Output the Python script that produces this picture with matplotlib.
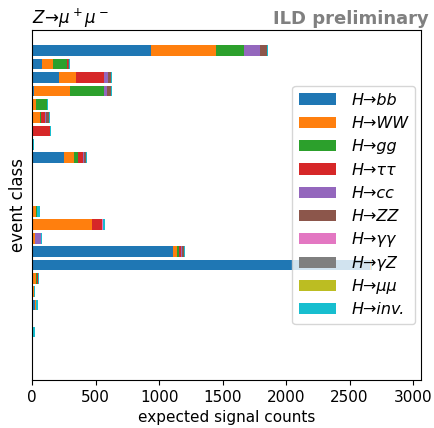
import matplotlib.pyplot as plt
import numpy as np

labels = ['H→bb', 'H→WW', 'H→gg', 'H→ττ', 'H→cc',
          'H→ZZ', 'H→γγ', 'H→γZ', 'H→μμ', 'H→inv.']
colors = ['tab:blue', 'tab:orange', 'tab:green', 'tab:red', 'tab:purple',
          'tab:brown', 'tab:pink', 'tab:gray', 'tab:olive', 'tab:cyan']

n_classes = 25
# counts per event class (rows 0..24), one list per Higgs decay channel
bb     = [937, 79, 213, 16, 0, 0, 0, 5, 252, 0, 0, 0, 0, 5, 0, 1110, 2660, 3, 8, 20, 0, 4, 0, 0, 0]
WW     = [512, 86, 133, 283, 31, 63, 0, 0, 76, 0, 0, 0, 31, 467, 22, 32, 5, 25, 3, 8, 0, 0, 0, 0, 0]
gg     = [220, 111, 0, 268, 89, 8, 0, 0, 32, 0, 0, 0, 8, 0, 0, 15, 2, 10, 0, 0, 0, 0, 0, 0, 0]
tautau = [0, 8, 221, 0, 0, 31, 142, 0, 42, 0, 0, 0, 0, 79, 0, 16, 2, 5, 6, 5, 0, 0, 0, 0, 0]
cc     = [126, 0, 29, 23, 0, 8, 0, 0, 10, 0, 0, 0, 0, 0, 51, 8, 1, 0, 0, 0, 0, 0, 0, 0, 0]
ZZ     = [55, 8, 26, 32, 0, 24, 0, 0, 13, 0, 0, 0, 0, 0, 0, 13, 1, 0, 0, 0, 0, 0, 0, 0, 0]
gamgam = [0, 0, 0, 0, 0, 0, 0, 0, 0, 0, 0, 0, 0, 8, 0, 0, 0, 0, 0, 0, 0, 0, 0, 0, 0]
Zgam   = [0] * n_classes
mumu   = [0] * n_classes
inv    = [8, 4, 3, 4, 3, 4, 5, 12, 8, 2, 8, 0, 20, 12, 3, 12, 8, 10, 8, 10, 8, 20, 0, 0, 0]
series = [bb, WW, gg, tautau, cc, ZZ, gamgam, Zgam, mumu, inv]

fig, ax = plt.subplots(figsize=(4.35, 4.28), dpi=100)
fig.subplots_adjust(left=0.074, right=0.968, top=0.93, bottom=0.112)

y = np.arange(n_classes)
left = np.zeros(n_classes)
for vals, lab, col in zip(series, labels, colors):
    vals = np.array(vals, dtype=float)
    ax.barh(y, vals, left=left, height=0.8, color=col, label=lab)
    left += vals

ax.set_ylim(24.6, -1.55)
ax.set_xlim(0, 3063)
ax.set_yticks([])
ax.set_xticks([0, 500, 1000, 1500, 2000, 2500, 3000])
ax.tick_params(labelsize=11)
ax.set_xlabel('expected signal counts', fontsize=11)
ax.set_ylabel('event class', fontsize=12)
ax.legend(loc='center right', bbox_to_anchor=(1.005, 0.5),
          prop={'size': 11.5, 'style': 'italic'},
          handlelength=2.3, labelspacing=0.52, handletextpad=1.0)
fig.text(0.074, 0.945, r'$Z\!\to\!\mu^+\mu^-$', fontsize=12)
fig.text(0.985, 0.945, 'ILD preliminary', fontsize=13, fontweight='bold',
         color='gray', ha='right')

fig.savefig('out.png')
